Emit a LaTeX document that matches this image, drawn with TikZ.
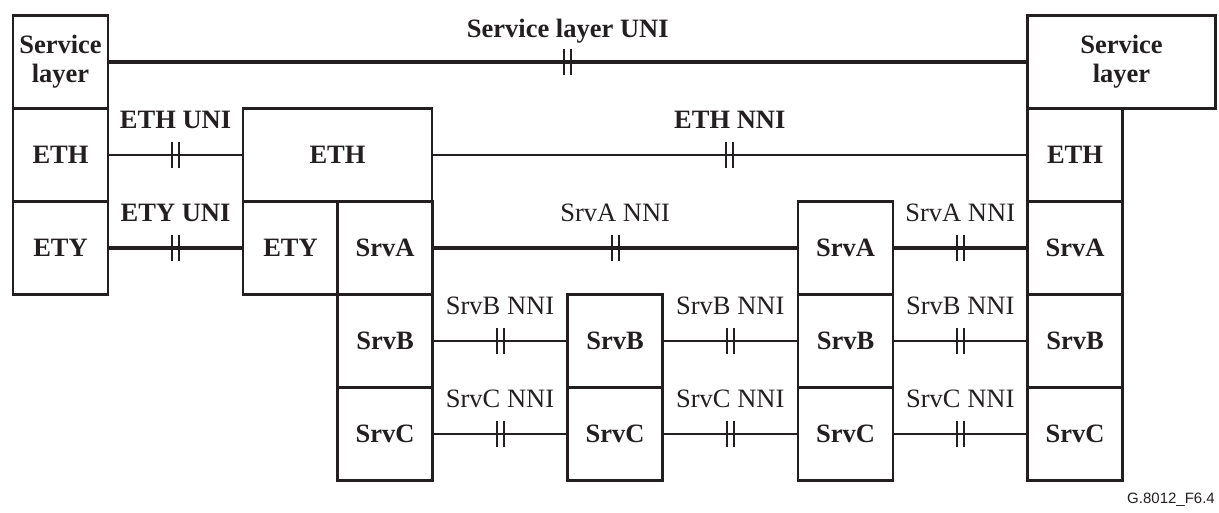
\documentclass[tikz,border=0pt]{standalone}
\usepackage{fontspec}
\setmainfont{Liberation Serif}
\newfontfamily\figfont{Liberation Sans}
\usepackage{tikz}
\usetikzlibrary{positioning}

\definecolor{ink}{RGB}{35,31,32}

\begin{document}
\begin{tikzpicture}[x=1pt, y=-1pt, color=ink,
  font=\fontsize{26.5}{29}\selectfont,
  layer/.style={draw, line width=2.8pt, minimum width=95pt, minimum height=93pt,
    inner sep=0pt, align=center, font=\fontsize{26.5}{29}\selectfont\bfseries},
  wide/.style={layer, minimum width=189pt},
  link/.style={line width=2.8pt},
  heavy/.style={line width=4.6pt},
  lbl/.style={anchor=base, yshift=27pt, inner sep=0pt},
  cut/.pic={\draw[line width=2pt] (-3.5,-13) -- (-3.5,13) (3.5,-13) -- (3.5,13);}]
\useasboundingbox (0,0) rectangle (1219,512);

% Left end
\node[layer] (lsl) at (60.5,62) {Service\\layer};
\node[layer] (leth) at (60.5,155) {ETH};
\node[layer] (lety) at (60.5,248) {ETY};

% First intermediate
\node[wide] (meth) at (337.5,155) {ETH};
\node[layer] (mety) at (290.5,248) {ETY};
\node[layer] (msrva) at (385,248) {SrvA};
\node[layer] (msrvb) at (385,341) {SrvB};
\node[layer] (msrvc) at (385,434) {SrvC};

% Second intermediate
\node[layer] (csrvb) at (615,341) {SrvB};
\node[layer] (csrvc) at (615,434) {SrvC};

% Third intermediate
\node[layer] (nsrva) at (845.5,248) {SrvA};
\node[layer] (nsrvb) at (845.5,341) {SrvB};
\node[layer] (nsrvc) at (845.5,434) {SrvC};

% Right end
\node[wide, minimum width=188pt] (rsl) at (1121.5,62) {Service\\layer};
\node[layer] (reth) at (1075,155) {ETH};
\node[layer] (rsrva) at (1075,248) {SrvA};
\node[layer] (rsrvb) at (1075,341) {SrvB};
\node[layer] (rsrvc) at (1075,434) {SrvC};

% Interfaces
\draw[heavy] (lsl) -- (rsl) pic[midway]{cut} node[midway, lbl, yshift=-2pt] {\bfseries Service layer UNI};
\draw[link] (leth) -- (meth) pic[midway]{cut} node[midway, lbl] {\bfseries ETH UNI};
\draw[link] (meth) -- (reth) pic[midway]{cut} node[midway, lbl] {\bfseries ETH NNI};
\draw[heavy] (lety) -- (mety) pic[midway]{cut} node[midway, lbl] {\bfseries ETY UNI};
\draw[heavy] (msrva) -- (nsrva) pic[midway]{cut} node[midway, lbl] {SrvA NNI};
\draw[heavy] (nsrva) -- (rsrva) pic[midway]{cut} node[midway, lbl] {SrvA NNI};
\draw[link] (msrvb) -- (csrvb) pic[midway]{cut} node[midway, lbl] {SrvB NNI};
\draw[link] (csrvb) -- (nsrvb) pic[midway]{cut} node[midway, lbl] {SrvB NNI};
\draw[link] (nsrvb) -- (rsrvb) pic[midway]{cut} node[midway, lbl] {SrvB NNI};
\draw[link] (msrvc) -- (csrvc) pic[midway]{cut} node[midway, lbl] {SrvC NNI};
\draw[link] (csrvc) -- (nsrvc) pic[midway]{cut} node[midway, lbl] {SrvC NNI};
\draw[link] (nsrvc) -- (rsrvc) pic[midway]{cut} node[midway, lbl] {SrvC NNI};

\node[anchor=base east, inner sep=0pt, font=\figfont\fontsize{15}{17}\selectfont] (figid) at (1215,503) {G.8012\_F6.4};
\end{tikzpicture}
\end{document}
